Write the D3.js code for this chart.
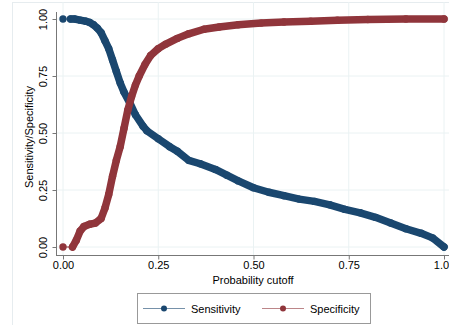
<!DOCTYPE html>
<html lang="en">
<head>
<meta charset="utf-8">
<title>Sensitivity / Specificity</title>
<script src="https://cdn.jsdelivr.net/npm/d3@7"></script>
<style>
  body { margin: 0; background: #fff; }
  svg text { font-family: "Liberation Sans", Arial, Helvetica, sans-serif; fill: #000; }
</style>
</head>
<body>
<div id="viz"></div>
<script>
const W = 449, H = 325;

// cutoff, sensitivity
const sensCut = [0, 0.02, 0.03, 0.045, 0.06, 0.07, 0.08, 0.09, 0.1, 0.11, 0.12, 0.13, 0.14, 0.15, 0.16, 0.176, 0.19, 0.21, 0.22, 0.25, 0.28, 0.3, 0.33, 0.36, 0.4, 0.43, 0.46, 0.5, 0.54, 0.58, 0.62, 0.66, 0.7, 0.74, 0.78, 0.82, 0.86, 0.9, 0.94, 0.97, 1.0];
const sensVal = [1, 1, 1, 0.995, 0.99, 0.985, 0.975, 0.96, 0.94, 0.905, 0.87, 0.82, 0.77, 0.72, 0.68, 0.63, 0.58, 0.53, 0.51, 0.475, 0.44, 0.42, 0.38, 0.365, 0.34, 0.315, 0.29, 0.26, 0.24, 0.225, 0.21, 0.2, 0.185, 0.165, 0.15, 0.13, 0.105, 0.08, 0.06, 0.04, 0.0];

// cutoff, specificity
const specCut = [0, 0.025, 0.035, 0.045, 0.055, 0.07, 0.085, 0.1, 0.11, 0.12, 0.13, 0.14, 0.15, 0.16, 0.17, 0.18, 0.19, 0.2, 0.215, 0.23, 0.25, 0.27, 0.3, 0.33, 0.37, 0.41, 0.46, 0.52, 0.58, 0.65, 0.72, 0.8, 0.9, 1.0];
const specVal = [0, 0, 0.03, 0.07, 0.09, 0.1, 0.105, 0.125, 0.17, 0.23, 0.31, 0.38, 0.44, 0.52, 0.6, 0.66, 0.71, 0.75, 0.8, 0.84, 0.87, 0.89, 0.915, 0.935, 0.955, 0.965, 0.975, 0.982, 0.987, 0.99, 0.995, 0.998, 1, 1];

const xTicks = [0, 0.25, 0.5, 0.75, 1];
const xTickLabels = ["0.00", "0.25", "0.50", "0.75", "1.00"];
const yTicks = [0, 0.25, 0.5, 0.75, 1];
const yTickLabels = ["0.00", "0.25", "0.50", "0.75", "1.00"];

const seriesNames = ["Sensitivity", "Specificity"];
const colors = ["#1a476f", "#90353b"];

const series = [
  sensCut.map((c, i) => ({ x: c, y: sensVal[i] })),
  specCut.map((c, i) => ({ x: c, y: specVal[i] }))
];

const svg = d3.select("#viz").append("svg")
  .attr("width", W).attr("height", H);

// outer graph region frame
svg.append("rect")
  .attr("x", 12.5).attr("y", 2.5)
  .attr("width", W).attr("height", H)
  .attr("fill", "#fff").attr("stroke", "#e6ecef");

const x = d3.scaleLinear().domain([0, 1]).range([63, 444]);
const y = d3.scaleLinear().domain([0, 1]).range([247, 19]);

// grid
svg.append("g").selectAll("line").data(xTicks).join("line")
  .attr("x1", d => x(d)).attr("x2", d => x(d))
  .attr("y1", 2).attr("y2", 255)
  .attr("stroke", "#eaf2f3").attr("stroke-width", 1);
svg.append("g").selectAll("line").data(yTicks).join("line")
  .attr("x1", 56).attr("x2", W)
  .attr("y1", d => y(d)).attr("y2", d => y(d))
  .attr("stroke", "#eaf2f3").attr("stroke-width", 1);

// axes
const xAxis = svg.append("g")
  .attr("transform", "translate(0,255.5)")
  .call(d3.axisBottom(x).tickValues(xTicks).tickFormat((d, i) => xTickLabels[i]).tickSize(4).tickSizeOuter(0));
xAxis.select(".domain").attr("d", "M56,0H" + W).attr("stroke", "#777");
xAxis.selectAll(".tick line").attr("stroke", "#777");
xAxis.selectAll("text").attr("font-size", 11).attr("y", 6);

const yAxis = svg.append("g")
  .attr("transform", "translate(56.5,0)")
  .call(d3.axisLeft(y).tickValues(yTicks).tickFormat((d, i) => yTickLabels[i]).tickSize(4).tickSizeOuter(0));
yAxis.select(".domain").attr("d", "M0,12V255.5").attr("stroke", "#777");
yAxis.selectAll(".tick line").attr("stroke", "#777");
yAxis.selectAll("text")
  .attr("font-size", 11)
  .attr("x", null).attr("dy", null)
  .attr("text-anchor", "middle")
  .attr("transform", "translate(-10,0) rotate(-90)");

// titles
svg.append("text")
  .attr("x", 253).attr("y", 284)
  .attr("text-anchor", "middle").attr("font-size", 11)
  .text("Probability cutoff");
svg.append("text")
  .attr("transform", "translate(33,137) rotate(-90)")
  .attr("text-anchor", "middle").attr("font-size", 11)
  .text("Sensitivity/Specificity");

// series: thin connecting line, thick dense-marker band, markers
const line = d3.line().x(d => x(d.x)).y(d => y(d.y));
series.forEach((s, i) => {
  const g = svg.append("g");
  g.append("path").datum(s).attr("d", line)
    .attr("fill", "none").attr("stroke", colors[i]).attr("stroke-width", 1.2);
  g.append("path").datum(s.slice(1)).attr("d", line)
    .attr("fill", "none").attr("stroke", colors[i]).attr("stroke-width", 7.5)
    .attr("stroke-linejoin", "round").attr("stroke-linecap", "round");
  g.selectAll("circle").data(s).join("circle")
    .attr("cx", d => x(d.x)).attr("cy", d => y(d.y)).attr("r", 3.7)
    .attr("fill", colors[i]);
});

// legend
const leg = svg.append("g");
leg.append("rect")
  .attr("x", 137.5).attr("y", 293.5).attr("width", 233).attr("height", 30)
  .attr("fill", "#fff").attr("stroke", "#999");
const legX = [143, 262];
seriesNames.forEach((n, i) => {
  leg.append("line")
    .attr("x1", legX[i]).attr("x2", legX[i] + 42)
    .attr("y1", 308.5).attr("y2", 308.5)
    .attr("stroke", colors[i]).attr("stroke-opacity", 0.6).attr("stroke-width", 1.2);
  leg.append("circle")
    .attr("cx", legX[i] + 21).attr("cy", 308.5).attr("r", 3)
    .attr("fill", colors[i]);
  leg.append("text")
    .attr("x", legX[i] + 48).attr("y", 312.5)
    .attr("font-size", 11)
    .text(n);
});
</script>
</body>
</html>
